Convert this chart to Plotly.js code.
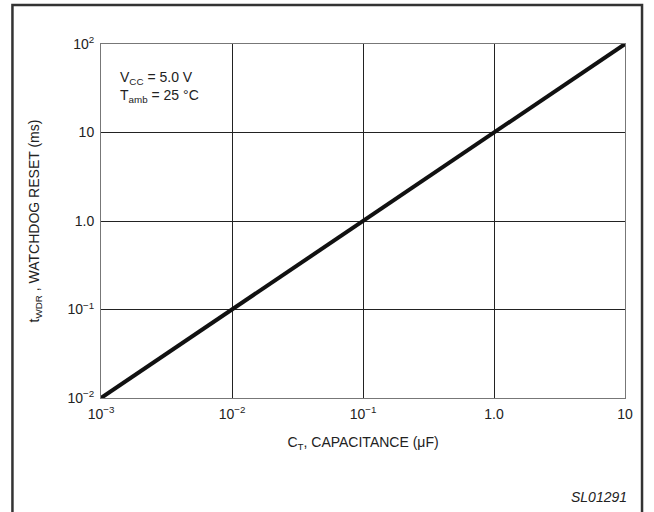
<!DOCTYPE html>
<html>
<head>
<meta charset="utf-8">
<script src="https://cdn.plot.ly/plotly-3.0.1.min.js"></script>
<style>
  html, body { margin: 0; padding: 0; background: #fff; }
  #chart { width: 654px; height: 512px; }
</style>
</head>
<body>
<div id="chart"></div>
<script>
// Data
const capacitance = [0.001, 10];          // µF
const resetTime = [0.01, 100];            // ms

const xTickVals = [0.001, 0.01, 0.1, 1, 10];
const xTickText = ['10<sup>−3</sup>', '10<sup>−2</sup>', '10<sup>−1</sup>', '1.0', '10'];
const yTickVals = [0.01, 0.1, 1, 10, 100];
const yTickText = ['10<sup>−2</sup>', '10<sup>−1</sup>', '1.0', '10', '10<sup>2</sup>'];

const font = { family: 'Liberation Sans, Arial, sans-serif', size: 14, color: '#222' };

const trace = {
  x: capacitance,
  y: resetTime,
  type: 'scatter',
  mode: 'lines',
  line: { color: '#111', width: 4 },
  hoverinfo: 'skip'
};

const layout = {
  width: 654,
  height: 512,
  margin: { l: 101, r: 29, t: 44, b: 114 },
  paper_bgcolor: '#fff',
  plot_bgcolor: '#fff',
  showlegend: false,
  font: font,
  xaxis: {
    type: 'log',
    range: [-3, 1],
    tickvals: xTickVals,
    ticktext: xTickText,
    showgrid: true,
    gridcolor: '#222',
    gridwidth: 1,
    showline: true,
    linecolor: '#777',
    linewidth: 1,
    mirror: true,
    ticks: '',
    ticklabelstandoff: 3,
    zeroline: false,
    tickfont: font,
    title: { text: 'C<sub>T</sub>, CAPACITANCE (μF)', font: font, standoff: 16 }
  },
  yaxis: {
    type: 'log',
    range: [-2, 2],
    tickvals: yTickVals,
    ticktext: yTickText,
    showgrid: true,
    gridcolor: '#222',
    gridwidth: 1,
    showline: true,
    linecolor: '#777',
    linewidth: 1,
    mirror: true,
    ticks: '',
    ticklabelstandoff: 3,
    zeroline: false,
    tickfont: font,
    title: { text: 't<sub>WDR</sub> , WATCHDOG RESET (ms)', font: font, standoff: 24 }
  },
  annotations: [
    {
      xref: 'paper', yref: 'paper',
      x: 0.032, y: 0.935,
      xanchor: 'left', yanchor: 'top',
      align: 'left',
      showarrow: false,
      text: 'V<sub>CC</sub> = 5.0 V<br>T<sub>amb</sub> = 25 °C',
      font: font
    },
    {
      xref: 'paper', yref: 'paper',
      x: 1.008, y: -0.25,
      xanchor: 'right', yanchor: 'top',
      showarrow: false,
      text: '<i>SL01291</i>',
      font: font
    }
  ],
  shapes: [
    {
      type: 'rect',
      xref: 'paper', yref: 'paper',
      x0: -0.169, x1: 1.0325,
      y0: -0.35, y1: 1.11,
      line: { color: '#333', width: 2.5 },
      fillcolor: 'rgba(0,0,0,0)',
      layer: 'below'
    }
  ]
};

Plotly.newPlot('chart', [trace], layout, { displayModeBar: false, staticPlot: true });
</script>
</body>
</html>
